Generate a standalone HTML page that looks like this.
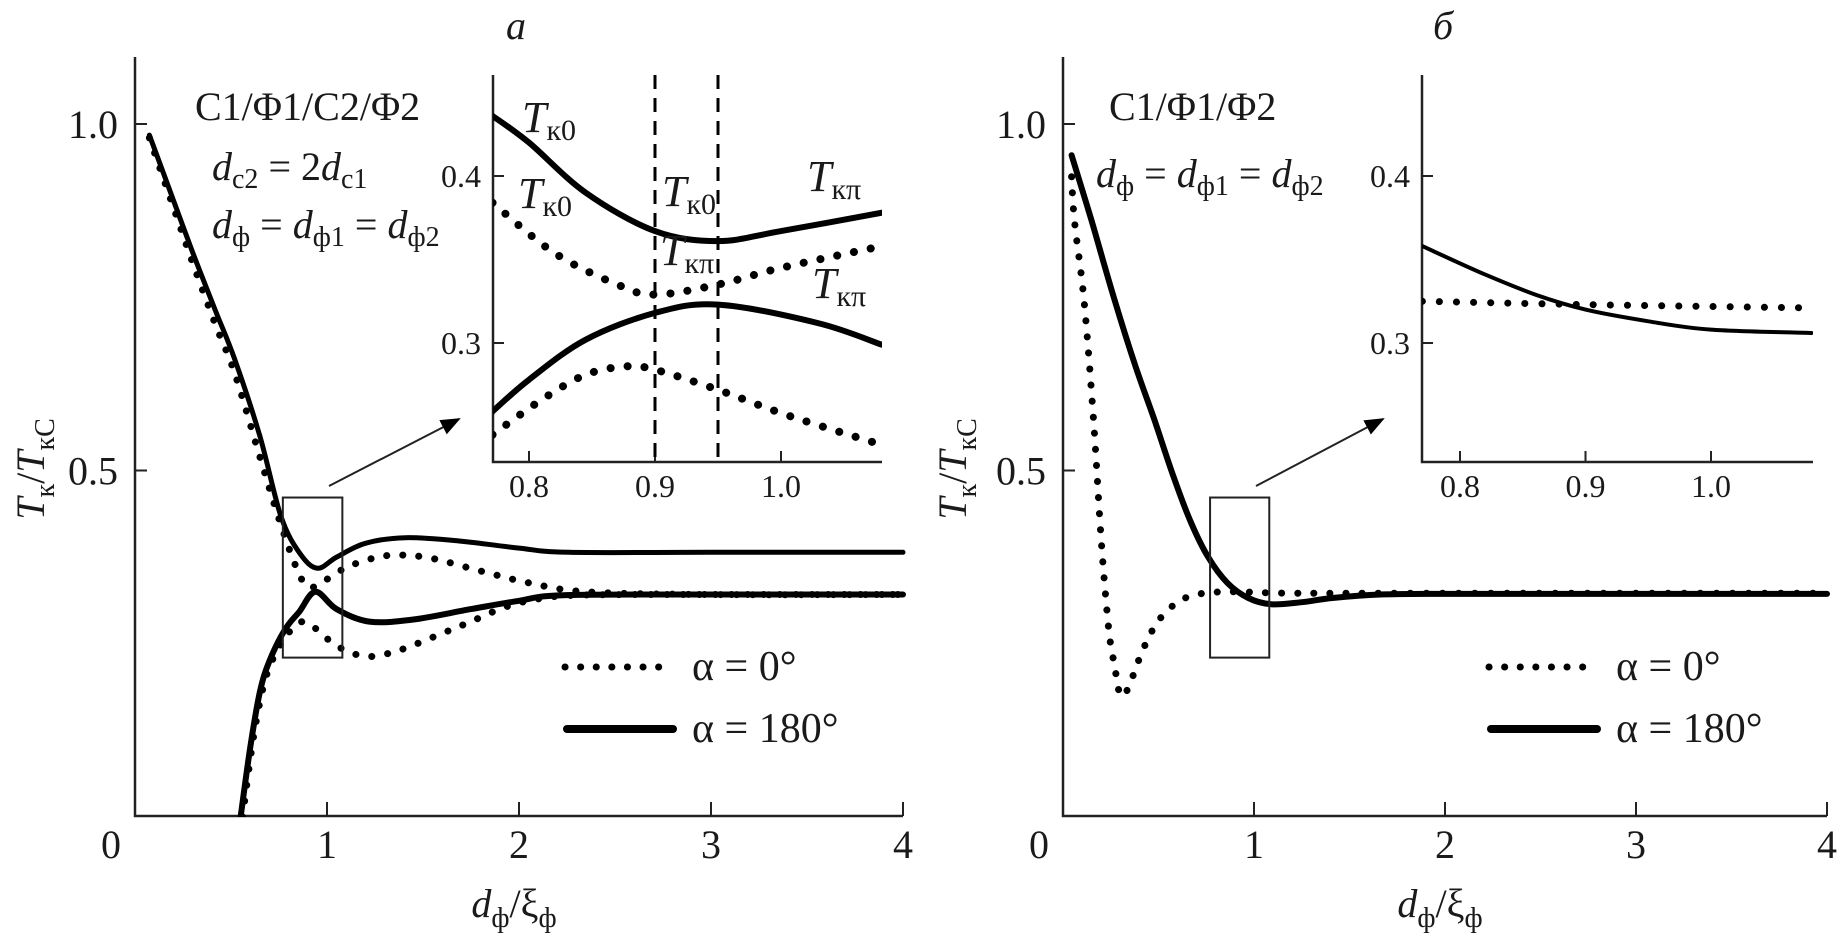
<!DOCTYPE html>
<html><head><meta charset="utf-8">
<style>
html,body{margin:0;padding:0;background:#fff;}
svg{display:block;}
svg text{font-family:"Liberation Serif","DejaVu Serif",serif;}
</style></head>
<body>
<svg id="chart" width="1841" height="943" viewBox="0 0 1841 943" xmlns="http://www.w3.org/2000/svg" font-family="Liberation Serif, serif"></svg>
<script>
// ---------- data: panel a, main plot ----------
const aSolidUpperX = [0.075,0.2,0.3,0.42,0.52,0.65,0.76,0.86,0.95,1.05,1.2,1.41,1.7,2.0,2.26,3.0,4.0];
const aSolidUpperY = [0.984,0.89,0.815,0.73,0.66,0.55,0.434,0.38,0.359,0.375,0.395,0.403,0.398,0.388,0.382,0.382,0.382];
const aSolidLowerX = [0.55,0.6,0.65,0.7,0.78,0.855,0.94,1.05,1.22,1.45,1.75,2.0,2.23,3.0,4.0];
const aSolidLowerY = [0.0,0.1,0.18,0.225,0.27,0.296,0.325,0.3,0.282,0.285,0.3,0.312,0.32,0.321,0.321];
const aDotUpperX = [0.075,0.2,0.3,0.42,0.52,0.65,0.75,0.84,0.9,0.97,1.1,1.25,1.38,1.55,1.8,2.05,2.35,3.0,4.0];
const aDotUpperY = [0.98,0.88,0.80,0.71,0.64,0.52,0.43,0.36,0.332,0.338,0.36,0.374,0.378,0.373,0.355,0.338,0.325,0.321,0.321];
const aDotLowerX = [0.56,0.62,0.68,0.75,0.82,0.88,0.95,1.05,1.19,1.32,1.44,1.6,1.75,1.9,2.05,2.3,3.0,4.0];
const aDotLowerY = [0.0,0.12,0.2,0.245,0.272,0.282,0.27,0.247,0.232,0.236,0.247,0.265,0.282,0.3,0.312,0.32,0.321,0.321];
// ---------- panel a, inset ----------
const aInSolidUpperX = [0.771,0.8,0.845,0.9,0.95,1.0,1.08];
const aInSolidUpperY = [0.436,0.42,0.39,0.367,0.361,0.367,0.378];
const aInSolidLowerX = [0.771,0.8,0.845,0.9,0.95,1.029,1.08];
const aInSolidLowerY = [0.259,0.278,0.302,0.318,0.323,0.312,0.299];
const aInDotUpperX = [0.771,0.82,0.87,0.9,0.95,1.0,1.08];
const aInDotUpperY = [0.384,0.354,0.335,0.329,0.335,0.345,0.358];
const aInDotLowerX = [0.771,0.81,0.845,0.877,0.9,0.95,1.004,1.08];
const aInDotLowerY = [0.245,0.266,0.281,0.286,0.284,0.272,0.257,0.239];
const aInDashX = [0.9,0.95];
// ---------- panel b, main ----------
const bSolidX = [0.045,0.15,0.27,0.38,0.48,0.58,0.67,0.76,0.86,0.97,1.09,1.25,1.41,1.66,2.0,3.0,4.0];
const bSolidY = [0.955,0.86,0.746,0.65,0.572,0.49,0.425,0.375,0.338,0.316,0.307,0.31,0.316,0.321,0.322,0.322,0.322];
const bDotX = [0.045,0.06,0.11,0.16,0.2,0.24,0.27,0.30,0.34,0.39,0.45,0.51,0.6,0.7,0.86,1.2,2.0,4.0];
const bDotY = [0.924,0.86,0.746,0.572,0.4,0.27,0.218,0.176,0.185,0.222,0.26,0.287,0.31,0.321,0.325,0.323,0.323,0.323];
// ---------- panel b, inset ----------
const bInSolidX = [0.77,0.817,0.86,0.9,0.95,1.0,1.08];
const bInSolidY = [0.358,0.342,0.329,0.32,0.313,0.308,0.306];
const bInDotX = [0.77,0.9,1.08];
const bInDotY = [0.325,0.323,0.321];
// ticks
const mainXTicks = [0,1,2,3,4];
const mainXTickLabels = ["0","1","2","3","4"];
const mainYTicks = [0.5,1.0];
const mainYTickLabels = ["0.5","1.0"];
const inXTicks = [0.8,0.9,1.0];
const inXTickLabels = ["0.8","0.9","1.0"];
const inYTicks = [0.3,0.4];
const inYTickLabels = ["0.3","0.4"];

const NS="http://www.w3.org/2000/svg";
const svg=document.getElementById('chart');
function el(tag,attrs,parent){const e=document.createElementNS(NS,tag);for(const k in attrs)e.setAttribute(k,attrs[k]);(parent||svg).appendChild(e);return e;}
function lin(d0,d1,p0,p1){return v=>p0+(v-d0)/(d1-d0)*(p1-p0);}
function smoothPath(xs,ys,sx,sy){
  const P=xs.map((x,i)=>[sx(x),sy(ys[i])]);
  let d=`M${P[0][0].toFixed(1)},${P[0][1].toFixed(1)}`;
  for(let i=0;i<P.length-1;i++){
    const p0=P[i-1]||P[i],p1=P[i],p2=P[i+1],p3=P[i+2]||P[i+1];
    const c1=[p1[0]+(p2[0]-p0[0])/6,p1[1]+(p2[1]-p0[1])/6];
    const c2=[p2[0]-(p3[0]-p1[0])/6,p2[1]-(p3[1]-p1[1])/6];
    d+=` C${c1[0].toFixed(1)},${c1[1].toFixed(1)} ${c2[0].toFixed(1)},${c2[1].toFixed(1)} ${p2[0].toFixed(1)},${p2[1].toFixed(1)}`;
  }
  return d;
}
function series(g,xs,ys,sx,sy,dotted,w,name,clip){
  const p=el('path',{d:smoothPath(xs,ys,sx,sy),fill:'none',stroke:'#000','stroke-width':w,'stroke-linecap':'round','stroke-linejoin':'round'},g);
  if(dotted){p.setAttribute('stroke-dasharray',dotted);}
  if(clip)p.setAttribute('clip-path',clip);
  
  
  return p;
}
function txt(g,x,y,s,size,anchor,name,style){
  const t=el('text',{x:x,y:y,'font-size':size,'text-anchor':anchor||'start',fill:'#1a1a1a','font-family':'Liberation Serif, serif'},g);
  if(style)t.setAttribute('style',style);
  t.innerHTML=s;
  
  
  return t;
}
const defs=el('defs',{});
const mk=el('marker',{id:'arr',viewBox:'0 0 10 10',refX:'9',refY:'5',markerWidth:'20',markerHeight:'20',orient:'auto',markerUnits:'userSpaceOnUse'},defs);
el('path',{d:'M0,1 L10,5 L0,9 z',fill:'#000'},mk);

function panel(cfg){
  const g=el('g',{});
  
  
  const sx=lin(0,4,cfg.x0,cfg.x4), sy=lin(0,1,817,124);
  const cid=cfg.name+'-clip';
  const cp=el('clipPath',{id:cid},defs);
  el('rect',{x:cfg.x0,y:40,width:cfg.x4-cfg.x0+20,height:817-40},cp);
  const ax=el('path',{d:`M${cfg.x0},57 L${cfg.x0},816 L${cfg.x4},816`,fill:'none',stroke:'#222','stroke-width':2.5},g);
  
  mainXTicks.forEach((v,i)=>{
    if(i>0){const t=el('line',{x1:sx(v),x2:sx(v),y1:816,y2:802,stroke:'#222','stroke-width':2},g);}
    txt(g,i===0?cfg.x0-24:sx(v),858,mainXTickLabels[i],40,'middle','x-tick-label');
  });
  mainYTicks.forEach((v,i)=>{
    const t=el('line',{x1:cfg.x0,x2:cfg.x0+12,y1:sy(v),y2:sy(v),stroke:'#222','stroke-width':2},g);
    txt(g,cfg.x0-17,sy(v)+14,mainYTickLabels[i],40,'end','y-tick-label');
  });
  txt(g,(cfg.x0+cfg.x4)/2-5,917,'<tspan font-style="italic">d</tspan><tspan font-size="28" dy="10">ф</tspan><tspan dy="-10">/ξ</tspan><tspan font-size="28" dy="10">ф</tspan>',40,'middle','x-axis-title');
  const yt=txt(g,0,0,'<tspan font-style="italic">T</tspan><tspan font-size="28" dy="10">к</tspan><tspan dy="-10">/</tspan><tspan font-style="italic">T</tspan><tspan font-size="28" dy="10">кС</tspan>',40,'middle','y-axis-title');
  yt.setAttribute('transform',`translate(${cfg.yl},469) rotate(-90)`);
  txt(g,cfg.titleX,39,cfg.title,40,'middle','panel-label','font-style:italic');
  cfg.series.forEach(s=>series(g,s[0],s[1],sx,sy,s[2],s[3],s[4],`url(#${cid})`));
  const bx=el('rect',{x:sx(0.77),y:sy(0.461),width:sx(1.08)-sx(0.77),height:sy(0.23)-sy(0.461),fill:'none',stroke:'#222','stroke-width':2},g);
  
  const ar=el('line',{x1:sx(1.0)+2,y1:486,x2:cfg.arX,y2:419,stroke:'#222','stroke-width':2,'marker-end':'url(#arr)'},g);
  
  const lg=el('g',{},g);
  const l1=el('line',{x1:cfg.lgX,x2:cfg.lgX+108,y1:667,y2:667,stroke:'#000','stroke-width':7,'stroke-linecap':'round','stroke-dasharray':'0.1 15.5'},lg);
  
  txt(lg,cfg.lgX+127,680,'α = 0°',42,'start','legend-entry-0deg');
  const l2=el('line',{x1:cfg.lgX+2,x2:cfg.lgX+108,y1:729,y2:729,stroke:'#000','stroke-width':8,'stroke-linecap':'round'},lg);
  
  txt(lg,cfg.lgX+127,742,'α = 180°',42,'start','legend-entry-180deg');
  const ig=el('g',{},g);
  const ix=lin(0.8,1.0,cfg.i08,cfg.i10), iy=lin(0.3,0.4,343,176);
  const icid=cfg.name+'-iclip';
  const icp=el('clipPath',{id:icid},defs);
  el('rect',{x:cfg.iL,y:75,width:cfg.iR-cfg.iL,height:462-75},icp);
  const iax=el('path',{d:`M${cfg.iL},75 L${cfg.iL},462 L${cfg.iR},462`,fill:'none',stroke:'#222','stroke-width':2.5},ig);
  
  inXTicks.forEach((v,i)=>{
    const t=el('line',{x1:ix(v),x2:ix(v),y1:462,y2:451,stroke:'#222','stroke-width':2},ig);
    txt(ig,ix(v),497,inXTickLabels[i],32,'middle','inset-x-tick-label');
  });
  inYTicks.forEach((v,i)=>{
    const t=el('line',{x1:cfg.iL,x2:cfg.iL+11,y1:iy(v),y2:iy(v),stroke:'#222','stroke-width':2},ig);
    txt(ig,cfg.iL-12,iy(v)+11,inYTickLabels[i],32,'end','inset-y-tick-label');
  });
  (cfg.dash||[]).forEach(v=>{
    const d=el('line',{x1:ix(v),x2:ix(v),y1:75,y2:462,stroke:'#000','stroke-width':3,'stroke-dasharray':'14 9'},ig);
    
  });
  cfg.inset.forEach(s=>series(ig,s[0],s[1],ix,iy,s[2],s[3],s[4],`url(#${icid})`));
  (cfg.notes||[]).forEach(n=>txt(g,n[0],n[1],n[2],n[3],'start',n[4]));
  (cfg.ilabels||[]).forEach(n=>txt(ig,n[0],n[1],`<tspan font-style="italic">T</tspan><tspan font-size="30" dy="8">${n[2]}</tspan>`,44,'start',n[3]));
}
const DOT='0.1 16', IDOT='0.1 17';
panel({name:'panel-a',x0:135,x4:903,yl:44,titleX:516,title:'a',arX:459,lgX:565,
  i08:529,i10:781,iL:493,iR:882,dash:aInDashX,
  series:[[aSolidUpperX,aSolidUpperY,null,5,'solid-upper-180'],[aSolidLowerX,aSolidLowerY,null,6,'solid-lower-180'],
          [aDotUpperX,aDotUpperY,DOT,7,'dotted-upper-0'],[aDotLowerX,aDotLowerY,DOT,7,'dotted-lower-0']],
  inset:[[aInSolidUpperX,aInSolidUpperY,null,6,'inset-solid-upper'],[aInSolidLowerX,aInSolidLowerY,null,6,'inset-solid-lower'],
         [aInDotUpperX,aInDotUpperY,IDOT,8,'inset-dotted-upper'],[aInDotLowerX,aInDotLowerY,IDOT,8,'inset-dotted-lower']],
  notes:[[195,120,'C1/Φ1/C2/Φ2',40,'structure-label'],
         [212,180,'<tspan font-style="italic">d</tspan><tspan font-size="28" dy="8">c2</tspan><tspan dy="-8"> = 2</tspan><tspan font-style="italic">d</tspan><tspan font-size="28" dy="8">c1</tspan>',40,'thickness-relation'],
         [212,238,'<tspan font-style="italic">d</tspan><tspan font-size="28" dy="8">ф</tspan><tspan dy="-8"> = </tspan><tspan font-style="italic">d</tspan><tspan font-size="28" dy="8">ф1</tspan><tspan dy="-8"> = </tspan><tspan font-style="italic">d</tspan><tspan font-size="28" dy="8">ф2</tspan>',40,'ferromagnet-relation']],
  ilabels:[[522,132,'к0','label-tk0-upper'],[518,208,'к0','label-tk0-dotted'],[662,206,'к0','label-tk0-mid'],
           [807,191,'кπ','label-tkpi-upper'],[660,265,'кπ','label-tkpi-mid'],[812,298,'кπ','label-tkpi-right']]
});
panel({name:'panel-b',x0:1063,x4:1827,yl:966,titleX:1443,title:'б',arX:1383,lgX:1489,
  i08:1460,i10:1711,iL:1422,iR:1813,
  series:[[bSolidX,bSolidY,null,6,'solid-180'],[bDotX,bDotY,DOT,7,'dotted-0']],
  inset:[[bInSolidX,bInSolidY,null,4,'inset-solid'],[bInDotX,bInDotY,IDOT,7,'inset-dotted']],
  notes:[[1109,120,'C1/Φ1/Φ2',40,'structure-label'],
         [1096,187,'<tspan font-style="italic">d</tspan><tspan font-size="28" dy="8">ф</tspan><tspan dy="-8"> = </tspan><tspan font-style="italic">d</tspan><tspan font-size="28" dy="8">ф1</tspan><tspan dy="-8"> = </tspan><tspan font-style="italic">d</tspan><tspan font-size="28" dy="8">ф2</tspan>',40,'ferromagnet-relation']]
});
</script>
</body></html>
